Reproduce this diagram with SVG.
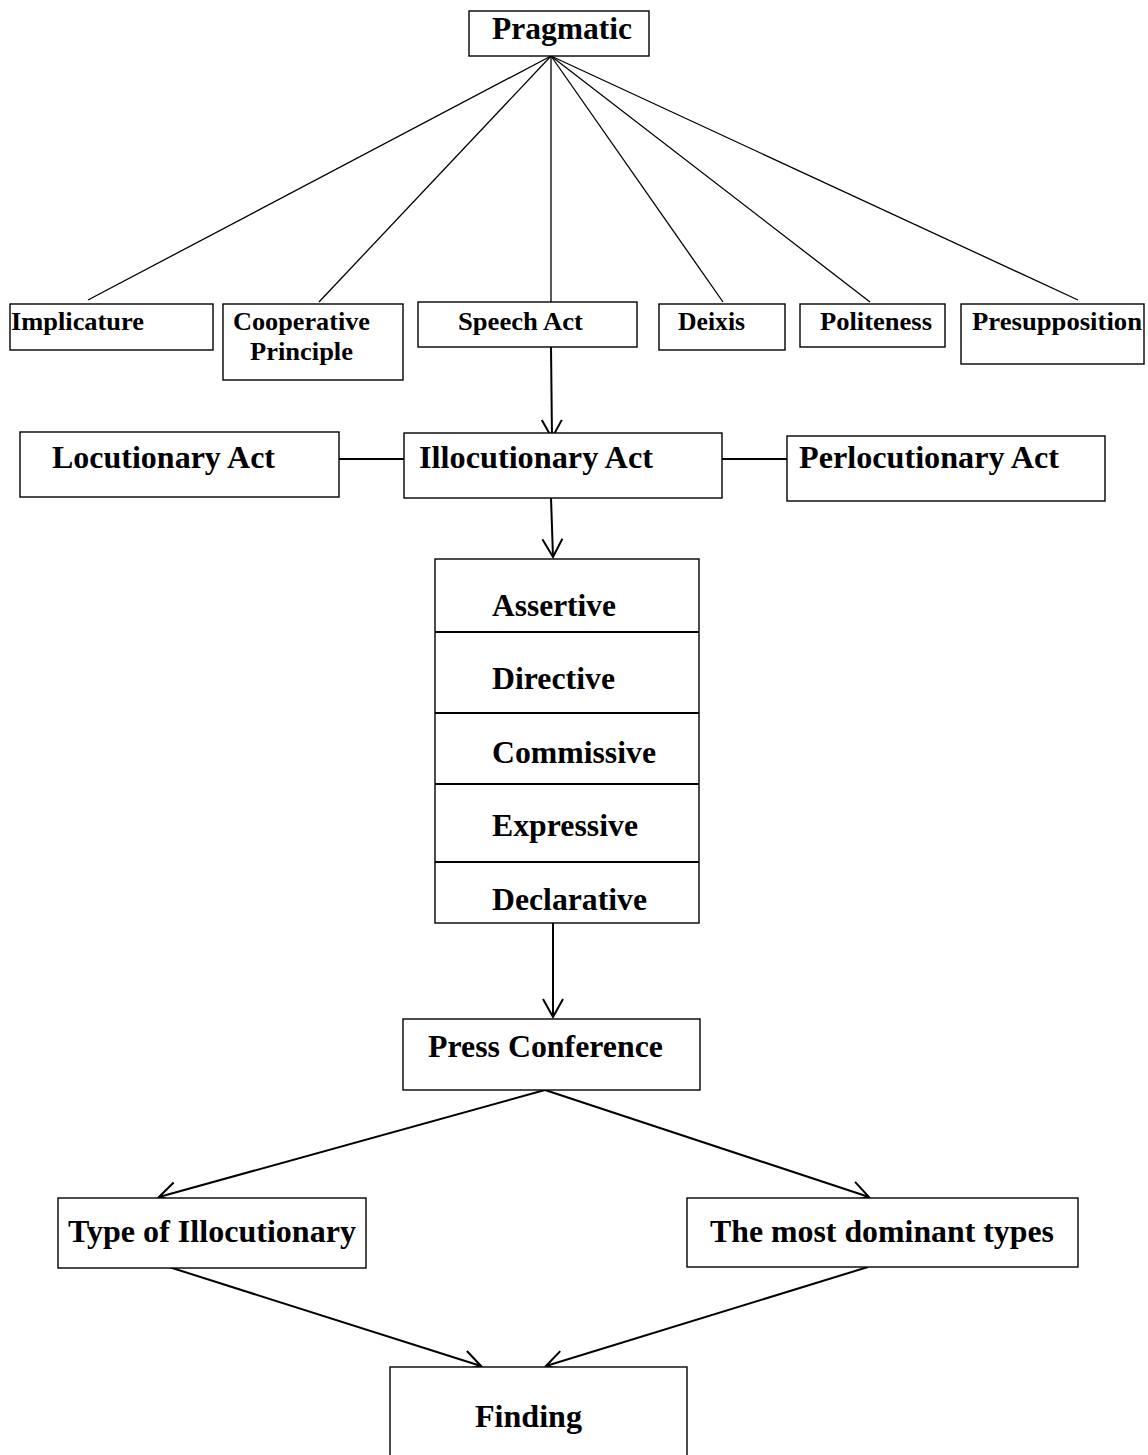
<svg xmlns="http://www.w3.org/2000/svg" width="1148" height="1455" viewBox="0 0 1148 1455">
<style>
  .box { fill: #fff; stroke: #000; stroke-width: 1.4; }
  .t { font-family: "Liberation Serif", "Times New Roman", serif; font-weight: bold; fill: #000; }
  .s24 { font-size: 25px; }
  .s30 { font-size: 31px; }
  .fan { stroke: #000; stroke-width: 1.3; fill: none; }
  .arr { stroke: #000; stroke-width: 2; fill: none; }
</style>
<defs>
  <marker id="ah" markerUnits="userSpaceOnUse" markerWidth="24" markerHeight="24" viewBox="-20 -12 24 24" refX="0" refY="0" orient="auto">
    <path d="M-18,-10 L0,0 L-18,10" fill="none" stroke="#000" stroke-width="2"/>
  </marker>
</defs>

<g id="connectors">
  <line class="fan" x1="551" y1="56" x2="88" y2="300"/>
  <line class="fan" x1="551" y1="56" x2="319" y2="302"/>
  <line class="fan" x1="551" y1="56" x2="551" y2="304"/>
  <line class="fan" x1="551" y1="56" x2="723" y2="302"/>
  <line class="fan" x1="551" y1="56" x2="870" y2="302"/>
  <line class="fan" x1="551" y1="56" x2="1078" y2="300"/>
  <line class="arr" x1="551" y1="347" x2="552" y2="438" marker-end="url(#ah)"/>
  <line class="arr" x1="339" y1="459" x2="404" y2="459"/>
  <line class="arr" x1="722" y1="459" x2="787" y2="459"/>
  <line class="arr" x1="551" y1="498" x2="553" y2="557" marker-end="url(#ah)"/>
  <line class="arr" x1="553" y1="923" x2="553" y2="1017" marker-end="url(#ah)"/>
  <line class="arr" x1="545" y1="1090" x2="159" y2="1197" marker-end="url(#ah)"/>
  <line class="arr" x1="545" y1="1090" x2="869" y2="1197" marker-end="url(#ah)"/>
  <line class="arr" x1="169" y1="1267" x2="481" y2="1366" marker-end="url(#ah)"/>
  <line class="arr" x1="868" y1="1267" x2="546" y2="1366" marker-end="url(#ah)"/>
</g>

<g id="pragmatic">
  <rect class="box" x="469" y="11" width="180" height="45"/>
  <text class="t" x="492" y="39" font-size="31" textLength="140" lengthAdjust="spacingAndGlyphs">Pragmatic</text>
</g>

<g id="implicature">
  <rect class="box" x="10" y="304" width="203" height="46"/>
  <text class="t s24" x="11" y="330" textLength="133" lengthAdjust="spacingAndGlyphs">Implicature</text>
</g>

<g id="cooperative">
  <rect class="box" x="223" y="304" width="180" height="76"/>
  <text class="t s24" x="233" y="330" textLength="137" lengthAdjust="spacingAndGlyphs">Cooperative</text>
  <text class="t s24" x="250" y="360" textLength="103" lengthAdjust="spacingAndGlyphs">Principle</text>
</g>

<g id="speech-act">
  <rect class="box" x="418" y="302" width="219" height="45"/>
  <text class="t s24" x="458" y="330" textLength="125" lengthAdjust="spacingAndGlyphs">Speech Act</text>
</g>

<g id="deixis">
  <rect class="box" x="659" y="304" width="126" height="46"/>
  <text class="t s24" x="678" y="330" textLength="67" lengthAdjust="spacingAndGlyphs">Deixis</text>
</g>

<g id="politeness">
  <rect class="box" x="800" y="304" width="145" height="43"/>
  <text class="t s24" x="820" y="330" textLength="112" lengthAdjust="spacingAndGlyphs">Politeness</text>
</g>

<g id="presupposition">
  <rect class="box" x="961" y="304" width="183" height="60"/>
  <text class="t s24" x="972" y="330" textLength="170" lengthAdjust="spacingAndGlyphs">Presupposition</text>
</g>

<g id="locutionary">
  <rect class="box" x="20" y="432" width="319" height="65"/>
  <text class="t s30" x="52" y="468" textLength="223" lengthAdjust="spacingAndGlyphs">Locutionary Act</text>
</g>

<g id="illocutionary">
  <rect class="box" x="404" y="433" width="318" height="65"/>
  <text class="t s30" x="419" y="468" textLength="234" lengthAdjust="spacingAndGlyphs">Illocutionary Act</text>
</g>

<g id="perlocutionary">
  <rect class="box" x="787" y="436" width="318" height="65"/>
  <text class="t s30" x="799" y="468" textLength="260" lengthAdjust="spacingAndGlyphs">Perlocutionary Act</text>
</g>

<g id="types">
  <rect class="box" x="435" y="559" width="264" height="364"/>
  <line x1="435" y1="632" x2="699" y2="632" stroke="#000" stroke-width="1.8"/>
  <line x1="435" y1="713" x2="699" y2="713" stroke="#000" stroke-width="1.8"/>
  <line x1="435" y1="784" x2="699" y2="784" stroke="#000" stroke-width="1.8"/>
  <line x1="435" y1="862" x2="699" y2="862" stroke="#000" stroke-width="1.8"/>
  <text class="t s30" x="492" y="616" textLength="124" lengthAdjust="spacingAndGlyphs">Assertive</text>
  <text class="t s30" x="492" y="689" textLength="123" lengthAdjust="spacingAndGlyphs">Directive</text>
  <text class="t s30" x="492" y="763" textLength="164" lengthAdjust="spacingAndGlyphs">Commissive</text>
  <text class="t s30" x="492" y="836" textLength="146" lengthAdjust="spacingAndGlyphs">Expressive</text>
  <text class="t s30" x="492" y="910" textLength="155" lengthAdjust="spacingAndGlyphs">Declarative</text>
</g>

<g id="press-conference">
  <rect class="box" x="403" y="1019" width="297" height="71"/>
  <text class="t s30" x="428" y="1057" textLength="235" lengthAdjust="spacingAndGlyphs">Press Conference</text>
</g>

<g id="type-of-illocutionary">
  <rect class="box" x="58" y="1198" width="308" height="70"/>
  <text class="t s30" x="68" y="1242" textLength="288" lengthAdjust="spacingAndGlyphs">Type of Illocutionary</text>
</g>

<g id="most-dominant">
  <rect class="box" x="687" y="1198" width="391" height="69"/>
  <text class="t s30" x="710" y="1242" textLength="344" lengthAdjust="spacingAndGlyphs">The most dominant types</text>
</g>

<g id="finding">
  <rect class="box" x="390" y="1367" width="297" height="100"/>
  <text class="t s30" x="475" y="1427" textLength="107" lengthAdjust="spacingAndGlyphs">Finding</text>
</g>
</svg>
